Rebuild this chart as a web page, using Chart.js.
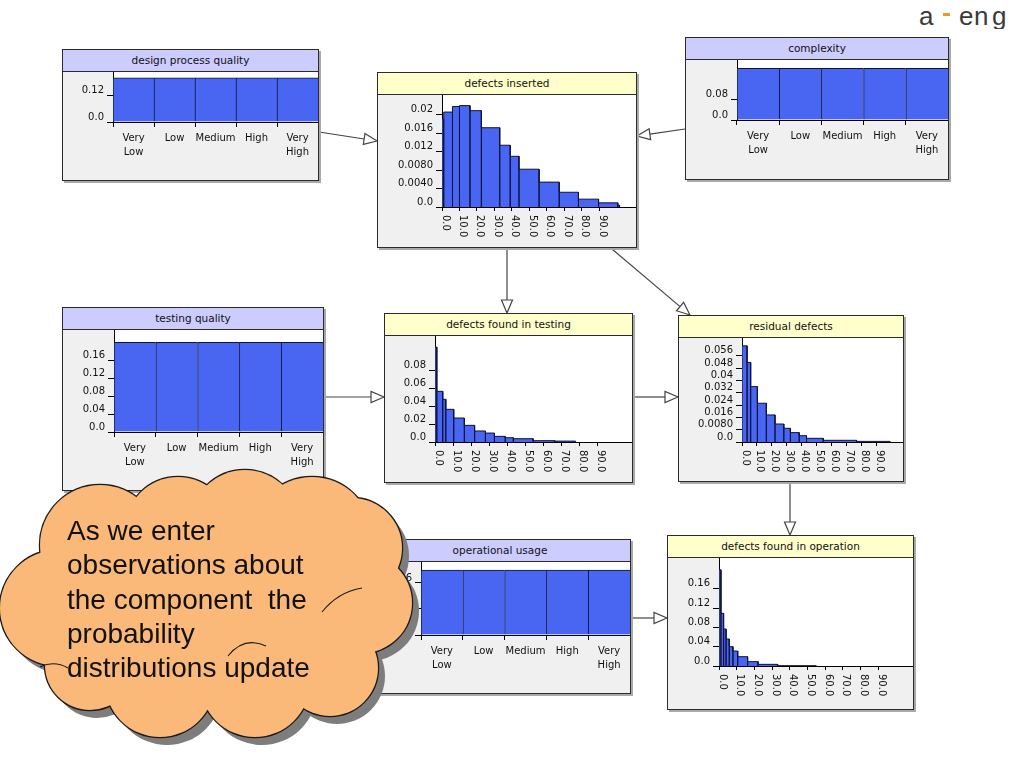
<!DOCTYPE html>
<html>
<head>
<meta charset="utf-8">
<script src="https://cdn.jsdelivr.net/npm/chart.js@4.4.1/dist/chart.umd.min.js"></script>
<style>
    body { margin: 0; width: 1024px; height: 768px; overflow: hidden; background: #fff; position: relative; font-family: "DejaVu Sans", sans-serif; }
    .node { position: absolute; box-sizing: border-box; border: 1px solid #2b2b2b; background: #f0f0f0; box-shadow: 2px 2px 0 #a9a9a9; z-index: 2; }
    .node .title { height: 21px; border-bottom: 1px solid #2b2b2b; font-size: 10.5px; line-height: 21px; text-align: center; color: #111; white-space: nowrap; }
    .title.input { background: #ccccff; }
    .title.calc { background: #ffffcc; }
    .node canvas { position: absolute; left: 0; top: 22px; }
    #links { position: absolute; left: 0; top: 0; z-index: 1; }
    #cloud { position: absolute; left: 0; top: 0; z-index: 3; }
    #cloudText { position: absolute; left: 67px; top: 514px; z-index: 4; font-family: "Liberation Sans", Arial, sans-serif; font-size: 28px; line-height: 34.3px; white-space: pre; color: #111; }
    #logo { position: absolute; left: 910px; top: 7px; width: 114px; height: 22px; overflow: hidden; font-family: "Liberation Sans", Arial, sans-serif; font-size: 26px; line-height: 26px; color: #3a3a3a; }
    #logo span { position: absolute; top: -4px; }
    #logo i { position: absolute; left: 33px; top: 6px; width: 7px; height: 3px; background: #f0962e; }
</style>
</head>
<body>
<svg id="links" width="1024" height="768"></svg>
<svg id="cloud" width="1024" height="768"></svg>
<div id="cloudText">As we enter
observations about
the component  the
probability
distributions update</div>
<div id="logo"><span style="left:9px">a</span><i></i><span style="left:49px">e</span><span style="left:64px">n</span><span style="left:82px">g</span></div>

<script>
    // ---- data ----
    const categories = [['Very', 'Low'], ['Low'], ['Medium'], ['High'], ['Very', 'High']];

    const designProbs = [0.2, 0.2, 0.2, 0.2, 0.2];
    const designYTicks = [0, 0.12];
    const designYLabels = ['0.0', '0.12'];

    const complexityProbs = [0.2, 0.2, 0.2, 0.2, 0.2];
    const complexityYTicks = [0, 0.08];
    const complexityYLabels = ['0.0', '0.08'];

    const testingQualityProbs = [0.2, 0.2, 0.2, 0.2, 0.2];
    const testingQualityYTicks = [0, 0.04, 0.08, 0.12, 0.16];
    const testingQualityYLabels = ['0.0', '0.04', '0.08', '0.12', '0.16'];

    const usageProbs = [0.2, 0.2, 0.2, 0.2, 0.2];
    const usageYTicks = [0, 0.08, 0.16];
    const usageYLabels = ['0.0', '0.08', '0.16'];

    // histogram bins: edges[i]..edges[i+1] has probs[i]
    const insertedEdges = [0, 1, 6, 10, 16, 22.5, 33, 39, 44, 55.5, 67, 78, 89.5, 100.5, 101.5];
    const insertedProbs = [0.0191, 0.0206, 0.0218, 0.0220, 0.0209, 0.0172, 0.0134, 0.0110, 0.0082, 0.0054, 0.0032, 0.0017, 0.0009, 0.0004];
    const insertedYTicks = [0, 0.004, 0.008, 0.012, 0.016, 0.02];
    const insertedYLabels = ['0.0', '0.0040', '0.0080', '0.012', '0.016', '0.02'];

    const foundTestingEdges = [0, 1, 4.3, 6, 10.4, 16.3, 22, 28, 33, 39, 43.5, 54.5, 66.5, 78];
    const foundTestingProbs = [0.106, 0.0566, 0.0477, 0.0365, 0.0268, 0.0186, 0.0123, 0.0100, 0.0063, 0.0048, 0.0037, 0.0015, 0.0010];
    const foundTestingYTicks = [0, 0.02, 0.04, 0.06, 0.08];
    const foundTestingYLabels = ['0.0', '0.02', '0.04', '0.06', '0.08'];

    const residualEdges = [0, 3.4, 5.8, 10.3, 16.3, 22.1, 28, 32.4, 38.3, 43.2, 54.4, 76.7, 99];
    const residualProbs = [0.0625, 0.0517, 0.0360, 0.0252, 0.0176, 0.0117, 0.0089, 0.0061, 0.0041, 0.0024, 0.0011, 0.0004];
    const residualYTicks = [0, 0.008, 0.016, 0.024, 0.032, 0.04, 0.048, 0.056];
    const residualYLabels = ['0.0', '0.0080', '0.016', '0.024', '0.032', '0.04', '0.048', '0.056'];

    const foundOperationEdges = [0, 1.1, 2.6, 4, 5.8, 7.9, 10.6, 16.2, 22.1, 33.2, 54.9];
    const foundOperationProbs = [0.199, 0.109, 0.0766, 0.0559, 0.040, 0.031, 0.0193, 0.009, 0.0034, 0.0007];
    const foundOperationYTicks = [0, 0.04, 0.08, 0.12, 0.16];
    const foundOperationYLabels = ['0.0', '0.04', '0.08', '0.12', '0.16'];

    const countTicks = [0, 10, 20, 30, 40, 50, 60, 70, 80, 90];

    // ---- layout (box = left, top, width, height) ----
    const BLUE = '#4866f2';
    const EDGE = '#10123a';
    const TICK_FONT = { family: 'DejaVu Sans', size: 10, lineHeight: 1.4 };

    const nodes = [
        { title: 'design process quality', kind: 'input', box: [62, 49, 257, 132], yW: 50, xH: 58, yMax: 0.227, probs: designProbs, yTicks: designYTicks, yLabels: designYLabels },
        { title: 'complexity', kind: 'input', box: [685, 37, 264, 143], yW: 51, xH: 59, yMax: 0.232, probs: complexityProbs, yTicks: complexityYTicks, yLabels: complexityYLabels },
        { title: 'testing quality', kind: 'input', box: [62, 307, 262, 184], yW: 51, xH: 58, yMax: 0.2274, probs: testingQualityProbs, yTicks: testingQualityYTicks, yLabels: testingQualityYLabels },
        { title: 'operational usage', kind: 'input', box: [369, 539, 262, 155], yW: 51, xH: 58, yMax: 0.2246, probs: usageProbs, yTicks: usageYTicks, yLabels: usageYLabels },
        { title: 'defects inserted', kind: 'calc', box: [377, 72, 260, 176], yW: 64, xH: 40, yMax: 0.0243, xMax: 110.9, edges: insertedEdges, probs: insertedProbs, yTicks: insertedYTicks, yLabels: insertedYLabels },
        { title: 'defects found in testing', kind: 'calc', box: [384, 313, 249, 170], yW: 50, xH: 40, yMax: 0.1184, xMax: 109.4, edges: foundTestingEdges, probs: foundTestingProbs, yTicks: foundTestingYTicks, yLabels: foundTestingYLabels },
        { title: 'residual defects', kind: 'calc', box: [678, 315, 226, 167], yW: 63, xH: 39, yMax: 0.0676, xMax: 107.8, edges: residualEdges, probs: residualProbs, yTicks: residualYTicks, yLabels: residualYLabels },
        { title: 'defects found in operation', kind: 'calc', box: [667, 535, 247, 175], yW: 51, xH: 43, yMax: 0.2235, xMax: 109.8, edges: foundOperationEdges, probs: foundOperationProbs, yTicks: foundOperationYTicks, yLabels: foundOperationYLabels }
    ];

    const links = [
        [319, 132, 377, 141],
        [685, 129, 637, 136],
        [507, 248, 507, 313],
        [612, 249, 690, 315],
        [323, 397, 384, 397],
        [633, 397, 678, 397],
        [790, 482, 790, 535],
        [631, 618, 667, 618]
    ];

    const cloudBumps = [
        [100, 545, 60], [178, 530, 53], [245, 525, 55], [312, 537, 60],
        [352, 548, 50], [362, 603, 50], [330, 668, 48], [255, 682, 55],
        [160, 682, 55], [90, 665, 45], [58, 608, 58], [200, 600, 110],
        [292, 612, 46]
    ];

    // white plot area
    const plotBg = {
        id: 'plotBg',
        beforeDraw(chart) {
            const a = chart.chartArea;
            const ctx = chart.ctx;
            ctx.save();
            ctx.fillStyle = '#fff';
            ctx.fillRect(a.left, a.top, a.right - a.left, a.bottom - a.top);
            ctx.restore();
        }
    };

    // x labels turned to read downwards, like the original tool
    const downLabels = {
        id: 'downLabels',
        afterDraw(chart) {
            const sx = chart.scales.x;
            const ctx = chart.ctx;
            ctx.save();
            ctx.font = '10px "DejaVu Sans"';
            ctx.fillStyle = '#111';
            ctx.textBaseline = 'alphabetic';
            ctx.textAlign = 'left';
            sx.ticks.forEach(t => {
                ctx.save();
                ctx.translate(sx.getPixelForValue(t.value) + 0.5, sx.top + 8);
                ctx.rotate(Math.PI / 2);
                ctx.fillText(t.value.toFixed(1), 0, 0);
                ctx.restore();
            });
            ctx.restore();
        }
    };

    function noPadding(s) {
        s.paddingTop = 0; s.paddingBottom = 0; s.paddingLeft = 0; s.paddingRight = 0;
    }

    function yScale(n) {
        return {
            min: 0,
            max: n.yMax,
            grid: { drawOnChartArea: false, tickLength: 6, color: '#000' },
            border: { color: '#000' },
            ticks: { font: TICK_FONT, color: '#111', padding: 3, labelOffset: -5, autoSkip: false, callback: (v, i) => n.yLabels[i] },
            afterBuildTicks: s => { s.ticks = n.yTicks.map(v => ({ value: v })); },
            afterFit: s => { s.width = n.yW; noPadding(s); }
        };
    }

    function histPoints(edges, probs) {
        const pts = [];
        probs.forEach((p, i) => {
            pts.push({ x: edges[i], y: 0 }, { x: edges[i], y: p }, { x: edges[i + 1], y: p }, { x: edges[i + 1], y: 0 });
        });
        return pts;
    }

    function chartConfig(n) {
        const common = {
            responsive: false,
            animation: false,
            layout: { padding: 0 },
            plugins: { legend: { display: false }, tooltip: { enabled: false } }
        };
        if (!n.edges) {
            return {
                type: 'bar',
                data: {
                    labels: categories,
                    datasets: [{
                        data: n.probs,
                        backgroundColor: BLUE,
                        borderColor: EDGE,
                        borderWidth: { top: 1, left: 1, right: 0, bottom: 0 },
                        borderSkipped: false,
                        barPercentage: 1,
                        categoryPercentage: 1
                    }]
                },
                options: Object.assign(common, {
                    scales: {
                        x: {
                            offset: true,
                            grid: { offset: true, drawOnChartArea: false, tickLength: 5, color: '#000' },
                            border: { color: '#000' },
                            ticks: { font: TICK_FONT, color: '#111', padding: 4, maxRotation: 0, autoSkip: false },
                            afterFit: s => { s.height = n.xH; noPadding(s); }
                        },
                        y: yScale(n)
                    }
                }),
                plugins: [plotBg]
            };
        }
        return {
            type: 'line',
            data: {
                datasets: [{
                    data: histPoints(n.edges, n.probs),
                    borderColor: EDGE,
                    borderWidth: 1,
                    backgroundColor: BLUE,
                    fill: 'origin',
                    pointRadius: 0,
                    tension: 0
                }]
            },
            options: Object.assign(common, {
                scales: {
                    x: {
                        type: 'linear',
                        min: 0,
                        max: n.xMax,
                        grid: { drawOnChartArea: false, tickLength: 4, color: '#000' },
                        border: { color: '#000' },
                        ticks: { display: false },
                        afterBuildTicks: s => { s.ticks = countTicks.map(v => ({ value: v })); },
                        afterFit: s => { s.height = n.xH; noPadding(s); }
                    },
                    y: yScale(n)
                }
            }),
            plugins: [plotBg, downLabels]
        };
    }

    nodes.forEach(n => {
        const [L, T, W, H] = n.box;
        const div = document.createElement('div');
        div.className = 'node';
        Object.assign(div.style, { left: L + 'px', top: T + 'px', width: W + 'px', height: H + 'px' });
        const title = document.createElement('div');
        title.className = 'title ' + n.kind;
        title.textContent = n.title;
        div.appendChild(title);
        const canvas = document.createElement('canvas');
        canvas.width = W - 2;
        canvas.height = H - 24;
        div.appendChild(canvas);
        document.body.appendChild(div);
        new Chart(canvas.getContext('2d'), chartConfig(n));
    });

    // arrows between nodes
    const NS = 'http://www.w3.org/2000/svg';
    const linkSvg = document.getElementById('links');
    links.forEach(([x1, y1, x2, y2]) => {
        const len = Math.hypot(x2 - x1, y2 - y1);
        const ux = (x2 - x1) / len, uy = (y2 - y1) / len;
        const bx = x2 - ux * 13, by = y2 - uy * 13;
        const line = document.createElementNS(NS, 'line');
        line.setAttribute('x1', x1); line.setAttribute('y1', y1);
        line.setAttribute('x2', bx); line.setAttribute('y2', by);
        line.setAttribute('stroke', '#444'); line.setAttribute('stroke-width', '1.2');
        linkSvg.appendChild(line);
        const head = document.createElementNS(NS, 'polygon');
        head.setAttribute('points', `${x2},${y2} ${bx - uy * 5.5},${by + ux * 5.5} ${bx + uy * 5.5},${by - ux * 5.5}`);
        head.setAttribute('fill', '#fff'); head.setAttribute('stroke', '#444'); head.setAttribute('stroke-width', '1.2');
        linkSvg.appendChild(head);
    });

    // callout cloud
    const cloudSvg = document.getElementById('cloud');
    function bumpLayer(fill, stroke, sw, dx, dy) {
        const g = document.createElementNS(NS, 'g');
        g.setAttribute('transform', `translate(${dx},${dy})`);
        cloudBumps.forEach(([cx, cy, r]) => {
            const c = document.createElementNS(NS, 'circle');
            c.setAttribute('cx', cx); c.setAttribute('cy', cy); c.setAttribute('r', r);
            c.setAttribute('fill', fill);
            if (stroke) { c.setAttribute('stroke', stroke); c.setAttribute('stroke-width', sw); }
            g.appendChild(c);
        });
        cloudSvg.appendChild(g);
    }
    bumpLayer('#7d7d7d', null, 0, 7, 8);
    bumpLayer('#fab978', '#1a1a1a', 2.4, 0, 0);
    bumpLayer('#fab978', null, 0, 0, 0);
    ['M 322 612 Q 338 592 362 588', 'M 40 667 Q 54 660 68 668', 'M 228 656 Q 244 636 266 646'].forEach(d => {
        const p = document.createElementNS(NS, 'path');
        p.setAttribute('d', d);
        p.setAttribute('fill', 'none'); p.setAttribute('stroke', '#1a1a1a'); p.setAttribute('stroke-width', '1.1');
        cloudSvg.appendChild(p);
    });
</script>
</body>
</html>
